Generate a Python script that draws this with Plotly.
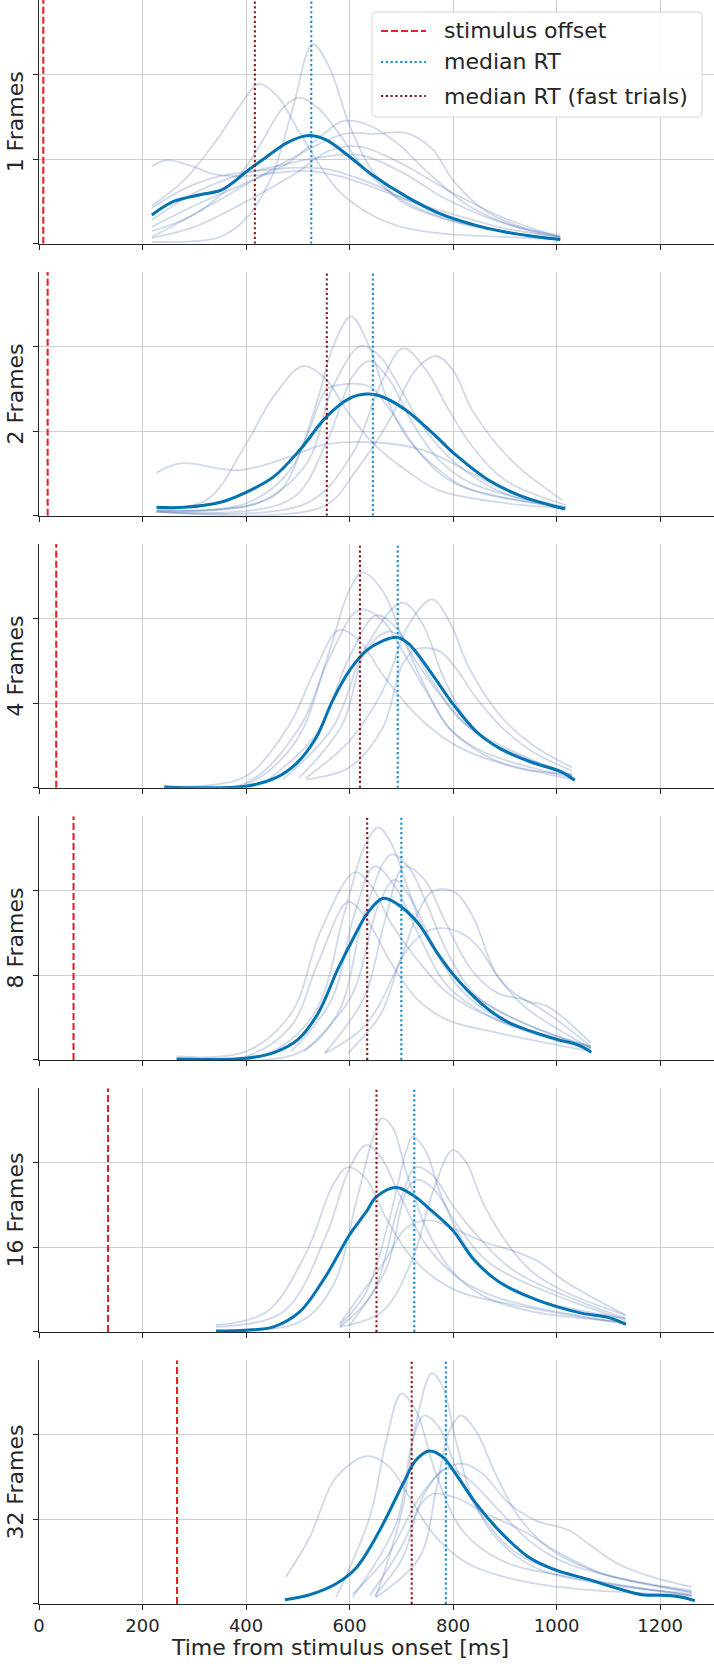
import plotly.graph_objects as go
from plotly.subplots import make_subplots

# ---------------- data ----------------
frames = [1, 2, 4, 8, 16, 32]
row_labels = ["1 Frames", "2 Frames", "4 Frames", "8 Frames", "16 Frames", "32 Frames"]
stimulus_offset_ms = [8.3, 16.7, 33.3, 66.7, 133.3, 266.7]
median_rt_ms = [526, 645, 693, 700, 725, 786]
median_rt_fast_ms = [417, 556, 620, 634, 652, 720]
x_ticks = [0, 200, 400, 600, 800, 1000, 1200]
y_ticks = [0, 1, 2]  # density, arbitrary units (tick labels hidden)
legend_labels = ["stimulus offset", "median RT", "median RT (fast trials)"]

# group-average density per condition: (time ms, density)
mean_1 = [(218, 0.34), (260, 0.50), (311, 0.58), (350, 0.63), (376, 0.73), (400, 0.85), (440, 1.03),
          (478, 1.19), (510, 1.27), (526, 1.28), (555, 1.23), (600, 1.03), (645, 0.81), (709, 0.56),
          (773, 0.36), (837, 0.23), (901, 0.14), (965, 0.08), (1007, 0.05)]
mean_2 = [(227, 0.10), (280, 0.10), (356, 0.17), (401, 0.28), (453, 0.46), (504, 0.78), (555, 1.17),
          (600, 1.39), (632, 1.44), (658, 1.42), (709, 1.25), (760, 0.98), (805, 0.72), (869, 0.42),
          (933, 0.23), (1016, 0.08)]
mean_4 = [(242, 0.01), (400, 0.02), (458, 0.12), (496, 0.28), (535, 0.59), (567, 1.03), (599, 1.38),
          (632, 1.62), (664, 1.74), (693, 1.78), (715, 1.70), (760, 1.34), (800, 0.99), (844, 0.67),
          (889, 0.47), (953, 0.30), (1005, 0.20), (1035, 0.09)]
mean_8 = [(266, 0.01), (400, 0.02), (455, 0.09), (500, 0.24), (539, 0.55), (577, 1.07), (609, 1.46),
          (635, 1.74), (664, 1.91), (693, 1.84), (732, 1.62), (770, 1.26), (803, 0.99), (854, 0.67),
          (905, 0.45), (950, 0.34), (1002, 0.24), (1040, 0.18), (1067, 0.09)]
mean_16 = [(342, 0.01), (400, 0.02), (453, 0.06), (504, 0.24), (555, 0.67), (600, 1.15), (632, 1.42),
           (652, 1.60), (690, 1.71), (722, 1.62), (761, 1.42), (801, 1.19), (838, 0.87), (889, 0.59),
           (953, 0.40), (1000, 0.30), (1050, 0.22), (1101, 0.17), (1134, 0.09)]
mean_32 = [(475, 0.05), (523, 0.11), (574, 0.24), (613, 0.43), (658, 0.87), (703, 1.42), (728, 1.70),
           (754, 1.81), (780, 1.74), (805, 1.54), (844, 1.19), (895, 0.83), (947, 0.55), (999, 0.40),
           (1056, 0.30), (1120, 0.18), (1165, 0.11), (1216, 0.10), (1242, 0.08), (1267, 0.04)]

# individual-participant densities per condition
subjects_1 = [
    [(218, 0.92), (247, 0.99), (290, 0.93), (340, 0.82), (400, 0.80), (460, 0.84), (520, 0.86), (580, 0.80),
     (640, 0.68), (710, 0.52), (780, 0.35), (860, 0.20), (940, 0.10), (1007, 0.05)],
    [(218, 0.45), (280, 0.75), (340, 1.20), (390, 1.65), (424, 1.89), (460, 1.75), (500, 1.35), (540, 0.95),
     (580, 0.62), (640, 0.35), (700, 0.20), (780, 0.12), (900, 0.08), (1007, 0.05)],
    [(218, 0.02), (300, 0.03), (350, 0.08), (400, 0.30), (450, 0.80), (490, 1.60), (529, 2.36), (560, 2.10),
     (600, 1.40), (640, 0.90), (700, 0.50), (780, 0.30), (880, 0.16), (1007, 0.05)],
    [(218, 0.15), (300, 0.35), (380, 0.75), (430, 1.20), (470, 1.60), (503, 1.73), (540, 1.60), (580, 1.30),
     (620, 0.95), (680, 0.60), (760, 0.35), (860, 0.18), (1007, 0.05)],
    [(218, 0.20), (300, 0.45), (400, 0.72), (480, 0.95), (540, 1.25), (587, 1.45), (630, 1.42), (690, 1.20),
     (750, 0.85), (830, 0.45), (920, 0.20), (1007, 0.07)],
    [(218, 0.08), (300, 0.35), (400, 0.70), (500, 1.05), (590, 1.30), (650, 1.30), (710, 1.31), (760, 1.12),
     (800, 0.75), (860, 0.40), (940, 0.18), (1007, 0.10)],
    [(218, 0.42), (280, 0.65), (350, 0.80), (420, 0.86), (500, 0.90), (560, 0.88), (640, 0.72), (720, 0.50),
     (800, 0.35), (900, 0.18), (1007, 0.08)],
    [(218, 0.28), (300, 0.60), (380, 0.80), (460, 0.92), (540, 1.02), (620, 1.05), (700, 0.85), (780, 0.55),
     (880, 0.28), (1007, 0.08)],
    [(218, 0.07), (300, 0.20), (400, 0.50), (500, 0.85), (560, 1.10), (620, 1.15), (700, 0.95), (800, 0.60),
     (900, 0.30), (1007, 0.08)],
]
subjects_2 = [
    [(227, 0.05), (401, 0.15), (485, 0.54), (536, 1.33), (568, 2.00), (603, 2.36), (638, 2.00), (671, 1.41),
     (709, 0.94), (773, 0.54), (837, 0.30), (1000, 0.11), (1017, 0.09)],
    [(227, 0.09), (324, 0.19), (401, 0.86), (453, 1.41), (510, 1.77), (555, 1.61), (594, 1.25), (645, 0.86),
     (709, 0.54), (773, 0.30), (900, 0.15), (1017, 0.09)],
    [(227, 0.07), (421, 0.15), (517, 0.62), (568, 1.53), (622, 2.01), (658, 1.89), (696, 1.53), (741, 1.06),
     (805, 0.62), (901, 0.26), (1017, 0.10)],
    [(227, 0.05), (517, 0.15), (606, 0.74), (658, 1.53), (703, 1.98), (747, 1.73), (792, 1.25), (837, 0.82),
     (901, 0.42), (1017, 0.13)],
    [(227, 0.05), (549, 0.11), (613, 0.54), (677, 1.13), (728, 1.73), (767, 1.89), (799, 1.73), (837, 1.25),
     (888, 0.82), (933, 0.54), (1010, 0.19)],
    [(227, 0.51), (273, 0.62), (388, 0.54), (485, 0.70), (549, 0.84), (645, 0.87), (741, 0.78), (837, 0.50),
     (901, 0.30), (1017, 0.10)],
    [(227, 0.07), (453, 0.23), (517, 0.94), (555, 1.49), (581, 1.55), (638, 1.53), (683, 1.21), (741, 0.70),
     (805, 0.38), (1017, 0.10)],
    [(227, 0.05), (485, 0.19), (555, 0.86), (606, 1.65), (638, 1.83), (677, 1.61), (722, 1.09), (773, 0.66),
     (837, 0.38), (1017, 0.10)],
]
subjects_4 = [
    [(242, 0.01), (400, 0.04), (496, 0.55), (561, 1.62), (599, 2.33), (625, 2.55), (664, 2.33), (702, 1.78),
     (741, 1.26), (792, 0.71), (857, 0.40), (921, 0.24), (1030, 0.16)],
    [(516, 0.12), (599, 0.55), (664, 1.15), (715, 1.94), (759, 2.23), (792, 1.98), (831, 1.42), (889, 0.87),
     (953, 0.51), (1030, 0.24)],
    [(471, 0.10), (567, 0.71), (631, 1.66), (702, 2.19), (741, 1.94), (779, 1.34), (824, 0.83), (889, 0.47),
     (1030, 0.14)],
    [(242, 0.02), (400, 0.06), (503, 0.71), (561, 1.54), (619, 2.11), (664, 1.98), (702, 1.62), (747, 1.15),
     (792, 0.71), (857, 0.43), (1030, 0.12)],
    [(242, 0.01), (342, 0.04), (406, 0.16), (484, 0.75), (535, 1.42), (580, 1.87), (619, 1.74), (664, 1.34),
     (728, 0.87), (792, 0.55), (857, 0.36), (1030, 0.10)],
    [(439, 0.08), (535, 0.63), (599, 1.54), (651, 2.04), (689, 1.90), (728, 1.50), (779, 1.07), (857, 0.59),
     (1030, 0.16)],
    [(503, 0.12), (586, 0.75), (631, 1.62), (676, 1.85), (709, 1.74), (760, 1.26), (824, 0.75), (1030, 0.14)],
    [(516, 0.10), (599, 0.24), (664, 0.71), (702, 1.46), (728, 1.64), (773, 1.62), (805, 1.42), (844, 1.07),
     (895, 0.71), (953, 0.43), (1030, 0.20)],
]
subjects_8 = [
    [(266, 0.01), (436, 0.06), (532, 0.55), (590, 1.74), (629, 2.53), (655, 2.75), (680, 2.57), (713, 2.02),
     (745, 1.50), (790, 1.07), (854, 0.71), (950, 0.40), (1066, 0.16)],
    [(266, 0.01), (500, 0.08), (577, 0.55), (629, 1.74), (680, 2.43), (713, 2.29), (751, 1.82), (790, 1.26),
     (854, 0.71), (1066, 0.14)],
    [(266, 0.04), (400, 0.10), (487, 0.55), (545, 1.54), (610, 2.22), (642, 2.06), (680, 1.62), (725, 1.23),
     (790, 0.79), (886, 0.47), (1066, 0.16)],
    [(552, 0.08), (629, 0.75), (667, 1.62), (706, 2.29), (745, 2.13), (783, 1.66), (835, 1.07), (886, 0.79),
     (938, 0.71), (983, 0.55), (1066, 0.16)],
    [(552, 0.08), (629, 0.40), (693, 1.11), (732, 1.74), (757, 1.98), (783, 2.02), (809, 1.96), (841, 1.66),
     (886, 0.99), (938, 0.71), (983, 0.63), (1066, 0.20)],
    [(266, 0.01), (400, 0.04), (487, 0.40), (539, 1.15), (597, 1.87), (629, 1.70), (680, 1.15), (732, 0.71),
     (790, 0.47), (886, 0.32), (1066, 0.10)],
    [(487, 0.10), (565, 0.71), (610, 1.74), (648, 2.29), (687, 2.06), (732, 1.50), (790, 0.87), (886, 0.47),
     (1066, 0.12)],
    [(597, 0.08), (661, 0.55), (706, 1.26), (757, 1.54), (809, 1.52), (848, 1.34), (886, 0.99), (938, 0.63),
     (1066, 0.14)],
    [(513, 0.10), (603, 0.75), (655, 1.82), (687, 2.13), (719, 1.90), (757, 1.42), (809, 0.87), (886, 0.50),
     (1066, 0.14)],
]
subjects_16 = [
    [(342, 0.01), (504, 0.12), (568, 0.55), (613, 1.54), (645, 2.29), (663, 2.53), (684, 2.41), (709, 1.90),
     (748, 1.23), (799, 0.71), (857, 0.43), (953, 0.24), (1133, 0.12)],
    [(581, 0.08), (632, 0.47), (677, 1.34), (709, 2.13), (722, 2.31), (748, 2.13), (774, 1.66), (812, 1.15),
     (864, 0.71), (953, 0.40), (1133, 0.16)],
    [(581, 0.06), (663, 0.24), (722, 0.87), (761, 1.66), (799, 2.15), (825, 2.01), (857, 1.54), (902, 1.07),
     (953, 0.71), (1018, 0.47), (1133, 0.20)],
    [(342, 0.06), (472, 0.24), (555, 1.15), (600, 1.94), (632, 2.21), (658, 2.09), (697, 1.62), (748, 1.03),
     (812, 0.63), (889, 0.40), (1133, 0.10)],
    [(342, 0.08), (440, 0.24), (517, 0.95), (568, 1.74), (597, 1.95), (632, 1.81), (671, 1.34), (722, 0.87),
     (799, 0.51), (953, 0.28), (1133, 0.10)],
    [(581, 0.06), (645, 0.47), (697, 1.54), (729, 1.95), (761, 1.85), (799, 1.50), (857, 1.07), (921, 0.71),
     (1133, 0.16)],
    [(581, 0.10), (671, 0.87), (709, 1.23), (754, 1.32), (799, 1.23), (857, 1.07), (921, 0.95), (966, 0.83),
     (1018, 0.59), (1133, 0.20)],
    [(600, 0.08), (671, 0.75), (709, 1.66), (729, 1.80), (761, 1.70), (812, 1.23), (876, 0.79), (1133, 0.14)],
]
subjects_32 = [
    [(651, 0.08), (703, 1.15), (728, 2.13), (759, 2.73), (780, 2.57), (805, 1.94), (837, 1.26), (882, 0.79),
     (959, 0.43), (1088, 0.24), (1261, 0.12)],
    [(574, 0.08), (639, 1.03), (671, 1.94), (700, 2.49), (728, 2.29), (767, 1.54), (818, 0.87), (895, 0.51),
     (1024, 0.32), (1261, 0.10)],
    [(651, 0.08), (735, 0.55), (767, 1.34), (793, 2.05), (815, 2.23), (844, 2.05), (882, 1.54), (927, 1.03),
     (992, 0.63), (1088, 0.36), (1261, 0.16)],
    [(606, 0.08), (690, 0.95), (722, 1.94), (744, 2.23), (773, 2.09), (805, 1.62), (844, 1.15), (908, 0.67),
     (992, 0.40), (1261, 0.10)],
    [(477, 0.32), (523, 0.79), (574, 1.50), (635, 1.75), (677, 1.62), (716, 1.26), (767, 0.79), (831, 0.47),
     (959, 0.24), (1261, 0.10)],
    [(606, 0.12), (671, 0.55), (735, 1.26), (780, 1.58), (818, 1.66), (857, 1.54), (908, 1.19), (959, 0.99),
     (1024, 0.87), (1062, 0.71), (1120, 0.47), (1184, 0.32), (1261, 0.20)],
    [(639, 0.10), (703, 0.71), (748, 1.34), (786, 1.60), (825, 1.50), (882, 1.15), (947, 0.75), (1024, 0.47),
     (1261, 0.14)],
    [(648, 0.10), (703, 0.55), (735, 1.15), (760, 1.30), (805, 1.26), (863, 1.07), (934, 0.87), (998, 0.63),
     (1088, 0.36), (1261, 0.14)],
]

mean_curves = [mean_1, mean_2, mean_4, mean_8, mean_16, mean_32]
subject_curves = [subjects_1, subjects_2, subjects_4, subjects_8, subjects_16, subjects_32]

# ---------------- styling ----------------
W, H = 714, 1667
ML, MB = 39, 63
PW, PH = W - ML, H - MB  # plot area in px
X_MAX = 1304
Y_MAX = 2.884
FONT = "DejaVu Sans"
TXT = "#262626"
SUBJ_COLOR = "rgba(76,114,176,0.27)"
MEAN_COLOR = "#0173B2"
OFFSET_COLOR = "#E8202A"
MED_COLOR = "#1A8BD0"
FAST_COLOR = "#8B1A1A"
OFFSET_DASH = "7px,3px"
DOT_DASH = "2.2px,2.6px"
line_styles = [(OFFSET_COLOR, OFFSET_DASH), (MED_COLOR, DOT_DASH), (FAST_COLOR, DOT_DASH)]


def px(xp):
    return (xp - ML) / PW


def py(yp):
    return 1 - yp / PH


fig = make_subplots(rows=6, cols=1, vertical_spacing=0.01764)

for i, n in enumerate(frames):
    row = i + 1
    for curve in subject_curves[i]:
        xs = [p[0] for p in curve]
        ys = [p[1] for p in curve]
        fig.add_trace(go.Scatter(x=xs, y=ys, mode="lines", showlegend=False, hoverinfo="skip",
                                 line=dict(color=SUBJ_COLOR, width=1.8, shape="spline", smoothing=1.0)),
                      row=row, col=1)
    mx = [p[0] for p in mean_curves[i]]
    my = [p[1] for p in mean_curves[i]]
    fig.add_trace(go.Scatter(x=mx, y=my, mode="lines", showlegend=False,
                             line=dict(color=MEAN_COLOR, width=3, shape="spline", smoothing=1.0)),
                  row=row, col=1)
    for val, name, (col, dash) in zip([stimulus_offset_ms[i], median_rt_ms[i], median_rt_fast_ms[i]],
                                      legend_labels, line_styles):
        fig.add_trace(go.Scatter(x=[val, val], y=[0, Y_MAX], mode="lines", name=name, showlegend=False,
                                 line=dict(color=col, width=2.1, dash=dash)),
                      row=row, col=1)

    fig.update_xaxes(range=[0, X_MAX], tickvals=x_ticks, showgrid=True, gridcolor="#CFCFCF", gridwidth=1,
                     showline=True, linecolor=TXT, linewidth=1.3, ticks="outside", ticklen=5, tickwidth=1.2,
                     tickcolor=TXT, zeroline=False, showticklabels=(row == 6),
                     tickfont=dict(size=18, color=TXT, family=FONT), row=row, col=1)
    fig.update_yaxes(range=[0, Y_MAX], tickvals=y_ticks, showticklabels=False, showgrid=True,
                     gridcolor="#CFCFCF", gridwidth=1, showline=True, linecolor=TXT, linewidth=1.3,
                     ticks="outside", ticklen=5, tickwidth=1.2, tickcolor=TXT, zeroline=False,
                     title=dict(text=row_labels[i], font=dict(size=22, color=TXT, family=FONT), standoff=3),
                     row=row, col=1)

# x-axis label
annotations = [dict(text="Time from stimulus onset [ms]", xref="paper", yref="paper",
                    x=px(340), y=py(1647), xanchor="center", yanchor="middle", showarrow=False,
                    borderpad=0, font=dict(size=22, color=TXT, family=FONT))]

# legend box (top panel, upper right)
bx0, bx1, by0, by1, r = 372, 702, 12, 117, 4
x0, x1, y0, y1 = px(bx0), px(bx1), py(by0), py(by1)
rx, ry = r / PW, r / PH
path = (f"M {x0+rx},{y0} L {x1-rx},{y0} Q {x1},{y0} {x1},{y0-ry} L {x1},{y1+ry} Q {x1},{y1} {x1-rx},{y1} "
        f"L {x0+rx},{y1} Q {x0},{y1} {x0},{y1+ry} L {x0},{y0-ry} Q {x0},{y0} {x0+rx},{y0} Z")
shapes = [dict(type="path", path=path, xref="paper", yref="paper", layer="above",
               fillcolor="rgba(255,255,255,0.9)", line=dict(color="#D8D8D8", width=1))]
row_y = [31, 62, 96]
for yy, label, (col, dash) in zip(row_y, legend_labels, line_styles):
    shapes.append(dict(type="line", xref="paper", yref="paper", layer="above",
                       x0=px(381), x1=px(426), y0=py(yy), y1=py(yy),
                       line=dict(color=col, width=2.1, dash=dash)))
    annotations.append(dict(text=label, xref="paper", yref="paper", x=px(442), y=py(yy),
                            xanchor="left", yanchor="middle", showarrow=False,
                            font=dict(size=22, color=TXT, family=FONT)))

fig.update_layout(
    width=W, height=H,
    margin=dict(l=ML, r=0, t=0, b=MB),
    plot_bgcolor="white", paper_bgcolor="white",
    font=dict(family=FONT, color=TXT),
    showlegend=False,
    shapes=shapes,
    annotations=annotations,
)

fig.write_html("out.html")
